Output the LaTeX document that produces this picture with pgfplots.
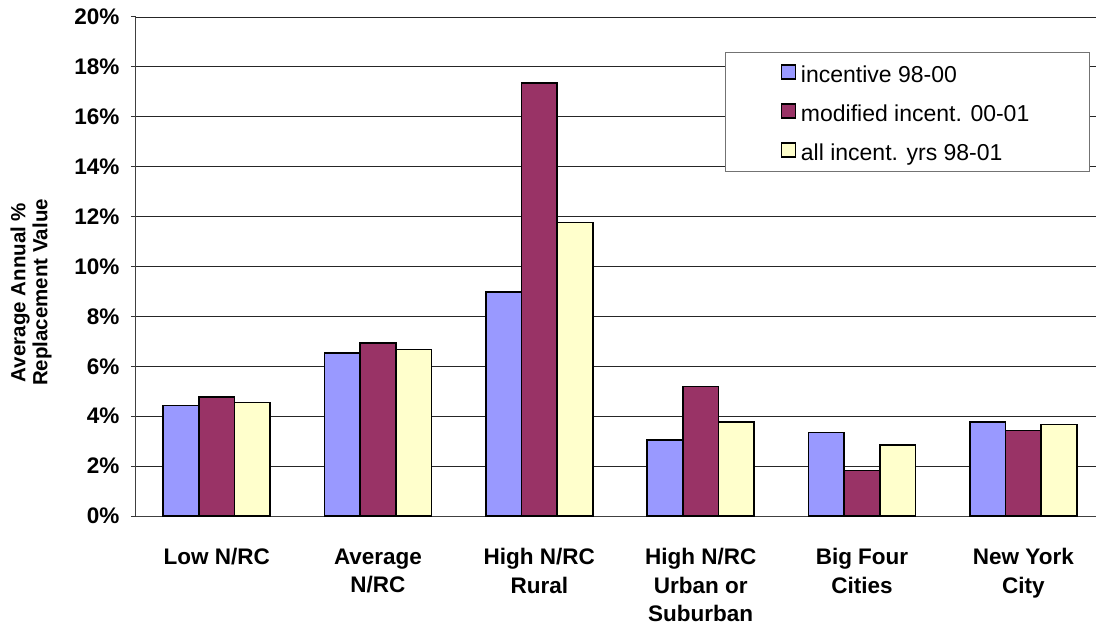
\documentclass[border=0pt]{standalone}
\usepackage{pgfplots}
\pgfplotsset{compat=1.18}
\usepackage{fontspec}
\setmainfont{Liberation Sans}
\definecolor{cblue}{HTML}{9999FF}
\definecolor{cmaroon}{HTML}{993366}
\definecolor{cyellow}{HTML}{FFFFCC}
\begin{document}
\begin{tikzpicture}
\begin{axis}[
  name=ax,
  scale only axis,
  width=968pt, height=499pt,
  xmin=-0.5, xmax=5.5,
  ymin=0, ymax=20,
  ybar=0pt, bar width=35.7pt,
  axis x line*=bottom, axis y line*=left,
  axis line style={black!75, line width=1pt},
  ytick={0,2,...,20},
  yticklabels={0\%,2\%,4\%,6\%,8\%,10\%,12\%,14\%,16\%,18\%,20\%},
  yticklabel style={font=\bfseries\fontsize{22.5}{26}\selectfont, xshift=-8pt},
  ymajorgrids, grid style={black!85, line width=0.8pt},
  tick align=outside, major tick length=5pt,
  tick style={black!80, line width=1pt},
  xtick={0,1,2,3,4,5},
  xticklabels={Low N/RC, Average\\N/RC, High N/RC\\Rural, High N/RC\\Urban or\\Suburban, Big Four\\Cities, New York\\City},
  xticklabel style={font=\bfseries\fontsize{22.5}{28.5}\selectfont, align=center, yshift=-24pt},
  x tick style={draw=none},
  extra x ticks={-0.5,0.5,1.5,2.5,3.5,4.5},
  extra x tick labels={},
  extra x tick style={grid=none, major tick length=7pt, tick style={draw=black!80, line width=1pt}},
  ylabel={Average Annual \%\\Replacement Value},
  ylabel style={at={(axis description cs:-0.1085,0.448)}, anchor=center, align=center, font=\bfseries\fontsize{20.5}{22}\selectfont},
  legend style={at={(axis description cs:0.6085,0.930)}, anchor=north west,
    draw=black!55, line width=1.2pt, fill=white,
    font=\fontsize{23}{27}\selectfont,
    inner xsep=55pt, inner ysep=1pt, row sep=0pt,
    nodes={inner xsep=5pt, inner ysep=0pt, text height=29pt, text depth=10pt}},
  legend cell align=left,
  legend image code/.code={\draw[#1, line width=1.3pt] (0pt,-6pt) rectangle (14pt,8pt);},
]
\addplot[fill=cblue, draw=black, line width=1.5pt] coordinates {(0,4.42) (1,6.53) (2,8.97) (3,3.04) (4,3.35) (5,3.76)};
\addplot[fill=cmaroon, draw=black, line width=1.5pt] coordinates {(0,4.76) (1,6.93) (2,17.35) (3,5.19) (4,1.83) (5,3.42)};
\addplot[fill=cyellow, draw=black, line width=1.5pt] coordinates {(0,4.55) (1,6.67) (2,11.76) (3,3.76) (4,2.85) (5,3.66)};
\legend{incentive 98-00, modified incent. 00-01, all incent. yrs 98-01}
\end{axis}
\pgfresetboundingbox
\path[use as bounding box] ([xshift=-136pt,yshift=-111pt]ax.south west) rectangle ([xshift=960pt,yshift=17pt]ax.north west);
\end{tikzpicture}
\end{document}
